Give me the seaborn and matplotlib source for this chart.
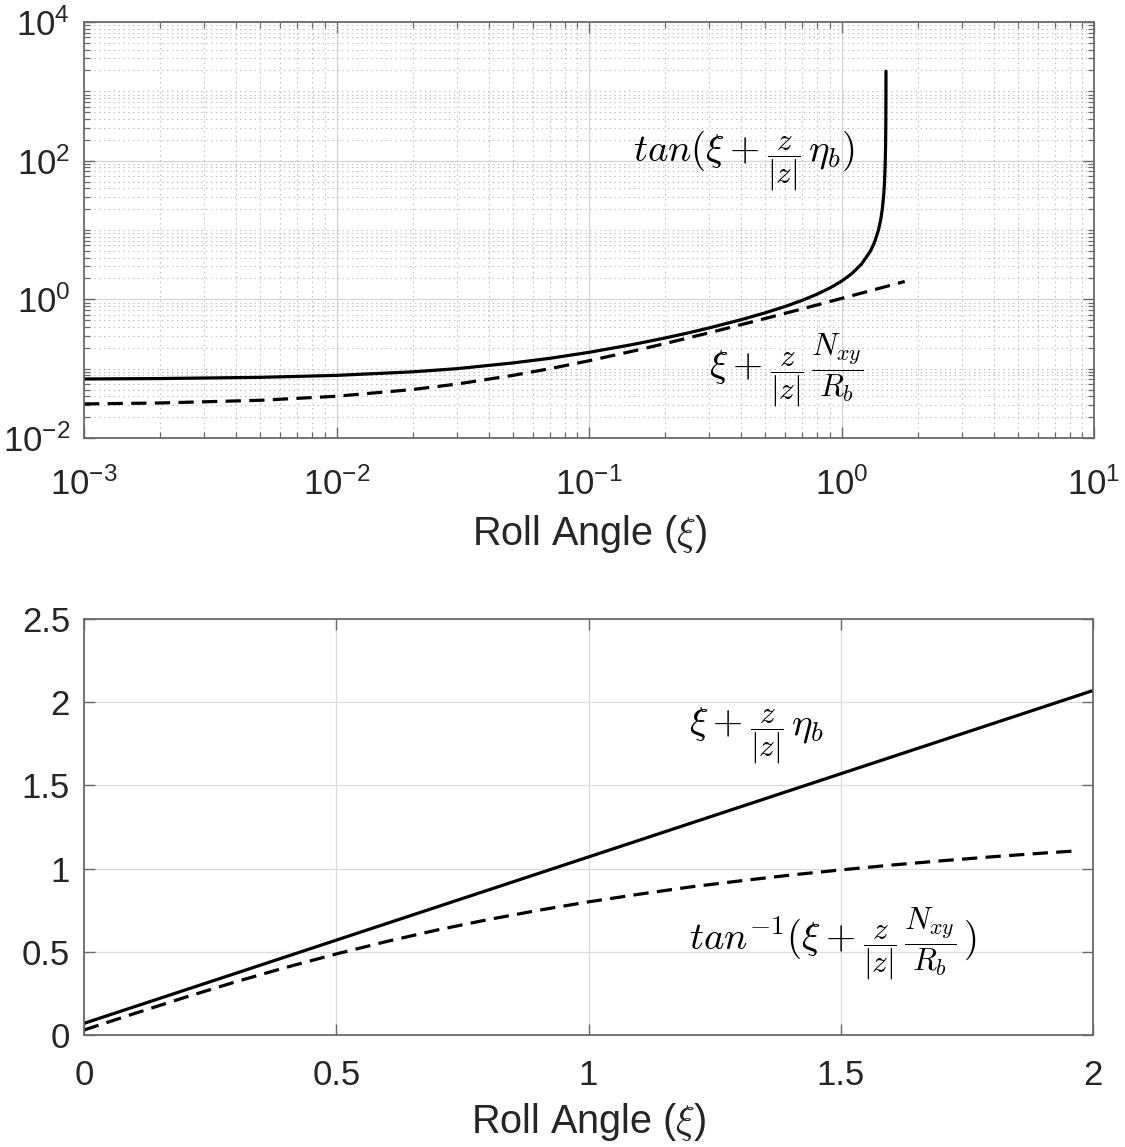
import numpy as np
import pandas as pd
import matplotlib
matplotlib.use('Agg')
import matplotlib.pyplot as plt
import seaborn as sns
from matplotlib.ticker import FixedLocator, FixedFormatter, NullFormatter
from matplotlib.offsetbox import TextArea, HPacker, AnnotationBbox

# ---------------- data ----------------
# Top panel (log-log): solid = tan(xi + z/|z| eta_b), dashed = xi + z/|z| Nxy/Rb
top_solid_x = [0.001, 0.002, 0.005, 0.01, 0.02, 0.03, 0.05, 0.07, 0.1, 0.15, 0.2,
               0.25, 0.3, 0.4, 0.5, 0.6, 0.7, 0.8, 0.9, 1.0, 1.1, 1.2, 1.3, 1.35,
               1.4, 1.43, 1.45, 1.47, 1.48, 1.49, 1.495, 1.498, 1.4995, 1.5003]
top_solid_y = [0.071, 0.072, 0.075, 0.080, 0.090, 0.100, 0.121, 0.141, 0.172, 0.224, 0.277,
               0.331, 0.388, 0.508, 0.641, 0.792, 0.970, 1.185, 1.459, 1.826, 2.360, 3.225, 4.913, 6.58,
               9.89, 14.1, 19.7, 32.5, 48.1, 92.6, 172.0, 357.0, 770.0, 1950.0]

top_dash_x = [0.001, 0.002, 0.005, 0.01, 0.02, 0.03, 0.05, 0.07, 0.1, 0.15, 0.2,
              0.3, 0.5, 0.7, 1.0, 1.3, 1.78]
top_dash_y = [0.031, 0.032, 0.035, 0.040, 0.050, 0.060, 0.080, 0.100, 0.130, 0.180, 0.230,
              0.330, 0.530, 0.730, 1.030, 1.330, 1.810]

# Bottom panel (linear): solid = xi + z/|z| eta_b, dashed = atan(xi + z/|z| Nxy/Rb)
bot_solid_x = [0.0, 0.5, 1.0, 1.5, 2.0]
bot_solid_y = [0.07, 0.57, 1.07, 1.57, 2.07]

bot_dash_x = [0.0, 0.1, 0.2, 0.3, 0.4, 0.5, 0.6, 0.7, 0.8, 0.9, 1.0,
              1.1, 1.2, 1.3, 1.4, 1.5, 1.6, 1.7, 1.8, 1.9, 1.97]
bot_dash_y = [0.030, 0.129, 0.226, 0.319, 0.406, 0.487, 0.562, 0.631, 0.693, 0.749, 0.800,
              0.846, 0.889, 0.926, 0.961, 0.992, 1.021, 1.047, 1.071, 1.093, 1.107]

top_ytick_vals = [1e-2, 1e0, 1e2, 1e4]
top_ytick_labels = [r'$\mathregular{10^{-2}}$', r'$\mathregular{10^{0}}$',
                    r'$\mathregular{10^{2}}$', r'$\mathregular{10^{4}}$']
top_xtick_vals = [1e-3, 1e-2, 1e-1, 1e0, 1e1]
top_xtick_labels = [r'$\mathregular{10^{-3}}$', r'$\mathregular{10^{-2}}$',
                    r'$\mathregular{10^{-1}}$', r'$\mathregular{10^{0}}$',
                    r'$\mathregular{10^{1}}$']
bot_xtick_vals = [0, 0.5, 1, 1.5, 2]
bot_xtick_labels = ['0', '0.5', '1', '1.5', '2']
bot_ytick_vals = [0, 0.5, 1, 1.5, 2, 2.5]
bot_ytick_labels = ['0', '0.5', '1', '1.5', '2', '2.5']

xlabel_text = r'Roll Angle ($\xi$)'
# annotation pieces: (latex, is_fraction)
ann_top_1 = [(r'$tan(\xi +\:$', False), (r'$\dfrac{z}{|z|}$', True), (r'$\eta_b)$', False)]
ann_top_2 = [(r'$\xi +\:$', False), (r'$\dfrac{z}{|z|}$', True), (r'$\dfrac{N_{xy}}{R_b}$', True)]
ann_bot_1 = [(r'$\xi +\:$', False), (r'$\dfrac{z}{|z|}$', True), (r'$\eta_b$', False)]
ann_bot_2 = [(r'$tan^{-1}(\xi +\:$', False), (r'$\dfrac{z}{|z|}$', True),
             (r'$\dfrac{N_{xy}}{R_b}$', True), (r'$)$', False)]

# ---------------- style ----------------
sns.set_theme(style='ticks')
plt.rcParams['font.family'] = ['Liberation Sans', 'DejaVu Sans']
plt.rcParams['lines.scale_dashes'] = False
plt.rcParams['axes.unicode_minus'] = False

W, H = 1125, 1147
fig = plt.figure(figsize=(W / 100, H / 100), dpi=100)
fig.patch.set_facecolor('white')

ax1 = fig.add_axes([84 / W, 1 - 438 / H, 1010 / W, 416 / H])
ax2 = fig.add_axes([84 / W, 1 - 1035 / H, 1009 / W, 416 / H])

LW = 2.3
DASH = (0, (11, 6))
TICK_FS = 25
LABEL_FS = 28.5
ANN_FS = 28
FRAC_FS = 22.5
TXT_C = '#262626'
SPINE_C = '#6a6a6a'

# top panel
ax1.set_xscale('log')
ax1.set_yscale('log')
sns.lineplot(x=top_solid_x, y=top_solid_y, ax=ax1, color='black', linewidth=LW,
             errorbar=None, sort=False)
sns.lineplot(x=top_dash_x, y=top_dash_y, ax=ax1, color='black', linewidth=LW,
             linestyle=DASH, errorbar=None, sort=False)
ax1.set_xlim(1e-3, 1e1)
ax1.set_ylim(1e-2, 1e4)

ax1.yaxis.set_major_locator(FixedLocator(top_ytick_vals))
ax1.yaxis.set_major_formatter(FixedFormatter(top_ytick_labels))
ymin = []
for k in range(-2, 4):
    for m in range(1, 10):
        v = m * 10.0 ** k
        if m == 1 and k % 2 == 0:
            continue
        ymin.append(v)
ax1.yaxis.set_minor_locator(FixedLocator(ymin))
ax1.yaxis.set_minor_formatter(NullFormatter())

ax1.xaxis.set_major_locator(FixedLocator(top_xtick_vals))
ax1.xaxis.set_major_formatter(FixedFormatter(top_xtick_labels))
xmin = [m * 10.0 ** k for k in range(-3, 1) for m in range(2, 10)]
ax1.xaxis.set_minor_locator(FixedLocator(xmin))
ax1.xaxis.set_minor_formatter(NullFormatter())

ax1.grid(which='major', linestyle='-', color='#d4d4d4', linewidth=0.9)
ax1.grid(which='minor', linestyle=(0, (1, 2.5)), color='#bdbdbd', linewidth=0.8)

# bottom panel
sns.lineplot(x=bot_solid_x, y=bot_solid_y, ax=ax2, color='black', linewidth=LW,
             errorbar=None, sort=False)
sns.lineplot(x=bot_dash_x, y=bot_dash_y, ax=ax2, color='black', linewidth=LW,
             linestyle=DASH, errorbar=None, sort=False)
ax2.set_xlim(0, 2)
ax2.set_ylim(0, 2.5)
ax2.xaxis.set_major_locator(FixedLocator(bot_xtick_vals))
ax2.xaxis.set_major_formatter(FixedFormatter(bot_xtick_labels))
ax2.yaxis.set_major_locator(FixedLocator(bot_ytick_vals))
ax2.yaxis.set_major_formatter(FixedFormatter(bot_ytick_labels))
ax2.grid(which='major', linestyle='-', color='#dcdcdc', linewidth=0.9)

for ax in (ax1, ax2):
    ax.set_axisbelow(True)
    ax.set_facecolor('white')
    for s in ax.spines.values():
        s.set_visible(True)
        s.set_color(SPINE_C)
        s.set_linewidth(1.3)
    ax.tick_params(which='both', direction='in', top=True, right=True,
                   color=SPINE_C, labelcolor=TXT_C, labelsize=TICK_FS)
    ax.tick_params(which='major', length=8, width=1.0)
    ax.tick_params(which='minor', length=4.5, width=0.9)
    ax.tick_params(axis='y', which='major', pad=10)
    ax.set_ylabel('')

ax1.tick_params(axis='x', which='major', pad=21)
ax2.tick_params(axis='x', which='major', pad=17)
ax1.set_xlabel(xlabel_text, fontsize=LABEL_FS, color=TXT_C,
               math_fontfamily='cm', labelpad=8)
ax2.set_xlabel(xlabel_text, fontsize=LABEL_FS, color=TXT_C,
               math_fontfamily='cm', labelpad=7)


def math_label(ax, x, y, pieces):
    kids = []
    for tex, is_frac in pieces:
        fs = FRAC_FS if is_frac else ANN_FS
        kids.append(TextArea(tex, textprops=dict(fontsize=fs, math_fontfamily='cm',
                                                 color='black')))
    pack = HPacker(children=kids, align='baseline', pad=0, sep=5)
    ab = AnnotationBbox(pack, (x, y), xycoords='data', box_alignment=(0, 0.5),
                        frameon=False, pad=0, annotation_clip=False)
    ax.add_artist(ab)


math_label(ax1, 0.15, 100, ann_top_1)
math_label(ax1, 0.30, 0.095, ann_top_2)
math_label(ax2, 1.2, 1.80, ann_bot_1)
math_label(ax2, 1.2, 0.55, ann_bot_2)

fig.savefig('out.png', dpi=100, facecolor='white')
